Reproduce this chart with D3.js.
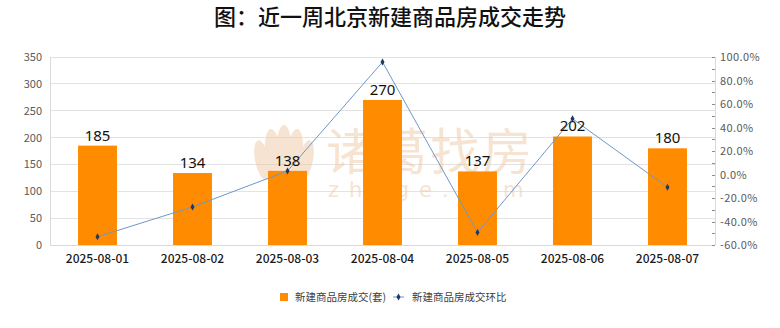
<!DOCTYPE html>
<html><head><meta charset="utf-8">
<script src="https://cdn.jsdelivr.net/npm/d3@7"></script>
<style>body{margin:0;background:#fff}svg{display:block}</style>
</head><body>
<svg id="c" width="780" height="328"></svg>
<script>
const categories = ["2025-08-01","2025-08-02","2025-08-03","2025-08-04","2025-08-05","2025-08-06","2025-08-07"];
const volumes = [185,134,138,270,137,202,180];
const changes = [-53.0,-27.6,3.0,95.7,-49.3,47.4,-10.9];
const leftTicks = [0,50,100,150,200,250,300,350];
const rightTicks = [-60,-40,-20,0,20,40,60,80,100];
const rightMinor = [-50,-30,-10,10,30,50,70,90];
const title = "图：近一周北京新建商品房成交走势";
const legendNames = ["新建商品房成交(套)","新建商品房成交环比"];

const svg = d3.select("#c");
const L=50, R=715, T=57, B=245;
const cjk = "'Noto Sans CJK SC','Noto Sans CJK JP',sans-serif";

const x = d3.scaleBand().domain(categories).range([L,R]).paddingInner(0.59).paddingOuter(0.295);
const yL = d3.scaleLinear().domain([0,350]).range([B,T]);
const yR = d3.scaleLinear().domain([-60,100]).range([B,T]);

// title
svg.append("text").attr("x",390).attr("y",25).attr("text-anchor","middle")
  .attr("font-family",cjk).attr("font-size",22).attr("font-weight",500).attr("fill","#111").text(title);

// grid
svg.append("g").selectAll("line").data(leftTicks.filter(d=>d>0)).join("line")
  .attr("x1",L).attr("x2",R).attr("y1",d=>yL(d)).attr("y2",d=>yL(d))
  .attr("stroke","#e3e3e3").attr("stroke-width",1).attr("shape-rendering","crispEdges");

// watermark
const wm = svg.append("g").attr("opacity",0.5);
const petals = [[-22,8,7,20,-28],[-11,2,8,25,-13],[0,0,8,27,0],[11,2,8,25,13],[22,8,7,20,28]];
petals.forEach(p=>{
  wm.append("ellipse").attr("cx",284+p[0]).attr("cy",152+p[1]).attr("rx",p[2]).attr("ry",p[3])
    .attr("transform",`rotate(${p[4]*0.4},${284+p[0]},${152+p[1]})`).attr("fill","#f0c9a6");
});
wm.append("text").attr("x",326).attr("y",170).attr("font-family",cjk).attr("font-size",50)
  .attr("fill","#f0c9a6").attr("letter-spacing",2).text("诸葛找房");
wm.append("text").attr("x",328).attr("y",197).attr("font-family","'DejaVu Sans',sans-serif").attr("font-size",21)
  .attr("fill","#f0c9a6").attr("letter-spacing",10).text("zhuge.com");

// axes lines
const axG = svg.append("g").attr("shape-rendering","crispEdges");
axG.append("line").attr("x1",L).attr("x2",L).attr("y1",T).attr("y2",B).attr("stroke","#d9d9d9");
axG.append("line").attr("x1",R).attr("x2",R).attr("y1",T).attr("y2",B).attr("stroke","#d9d9d9");
axG.append("line").attr("x1",L).attr("x2",R).attr("y1",B).attr("y2",B).attr("stroke","#d9d9d9");

// right axis ticks
axG.selectAll(".rt").data(rightTicks.concat(rightMinor)).join("line")
  .attr("x1",R-3).attr("x2",R).attr("y1",d=>Math.round(yR(d))+0.5).attr("y2",d=>Math.round(yR(d))+0.5)
  .attr("stroke","#8c8c8c");

// left labels
svg.append("g").selectAll("text").data(leftTicks).join("text")
  .attr("x",42).attr("y",d=>yL(d)+4).attr("text-anchor","end")
  .attr("font-family",cjk).attr("font-size",11).attr("fill","#595959").text(d=>d);
// right labels
svg.append("g").selectAll("text").data(rightTicks).join("text")
  .attr("x",720).attr("y",d=>yR(d)+4).attr("text-anchor","start")
  .attr("font-family",cjk).attr("font-size",11).attr("fill","#595959").attr("letter-spacing",0.4).text(d=>d.toFixed(1)+"%");
// x labels
svg.append("g").selectAll("text").data(categories).join("text")
  .attr("x",d=>x(d)+x.bandwidth()/2).attr("y",263).attr("text-anchor","middle")
  .attr("font-family",cjk).attr("font-size",12).attr("font-weight",500).attr("fill","#1a1a1a").text(d=>d);

// bars
svg.append("g").selectAll("rect").data(volumes).join("rect")
  .attr("x",(d,i)=>x(categories[i])).attr("width",x.bandwidth())
  .attr("y",d=>yL(d)).attr("height",d=>B-yL(d)).attr("fill","#ff8c00");

// line
const line = d3.line().x((d,i)=>x(categories[i])+x.bandwidth()/2).y(d=>yR(d));
svg.append("path").datum(changes).attr("d",line).attr("fill","none").attr("stroke","#6f98c6").attr("stroke-width",1);
svg.append("g").selectAll("path").data(changes).join("path")
  .attr("d",d3.symbol(d3.symbolDiamond,14))
  .attr("transform",(d,i)=>`translate(${x(categories[i])+x.bandwidth()/2},${yR(d)})`)
  .attr("fill","#1f3864");

// data labels
svg.append("g").selectAll("text").data(volumes).join("text")
  .attr("x",(d,i)=>x(categories[i])+x.bandwidth()/2).attr("y",d=>yL(d)-5).attr("text-anchor","middle")
  .attr("font-family","'Noto Sans',sans-serif").attr("font-size",15).attr("fill","#111").text(d=>d);

// legend
const lg = svg.append("g");
lg.append("rect").attr("x",280).attr("y",293).attr("width",8).attr("height",8).attr("fill","#ff8c00");
lg.append("text").attr("x",295).attr("y",301).attr("font-family",cjk).attr("font-size",10.5).attr("fill","#404040").text(legendNames[0]);
lg.append("line").attr("x1",393).attr("x2",404).attr("y1",297).attr("y2",297).attr("stroke","#6f98c6");
lg.append("path").attr("d",d3.symbol(d3.symbolDiamond,14)).attr("transform","translate(398.5,297)").attr("fill","#1f3864");
lg.append("text").attr("x",412).attr("y",301).attr("font-family",cjk).attr("font-size",10.5).attr("fill","#404040").text(legendNames[1]);
</script>
</body></html>
